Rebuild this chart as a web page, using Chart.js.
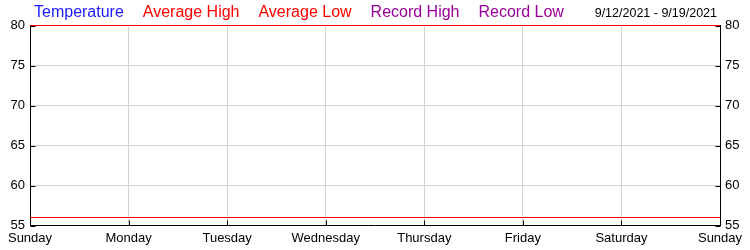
<!DOCTYPE html>
<html><head><meta charset="utf-8">
<script src="https://cdn.jsdelivr.net/npm/chart.js@4"></script>
<style>html,body{margin:0;padding:0;background:#fff}</style>
</head><body><canvas id="c" width="750" height="250"></canvas>
<script>
const days = ['Sunday','Monday','Tuesday','Wednesday','Thursday','Friday','Saturday','Sunday'];
const temperature = [];
const averageHigh = [80,80,80,80,80,80,80,80];
const averageLow = [56,56,56,56,56,56,56,56];
const recordHigh = [];
const recordLow = [];
const yMin = 55, yMax = 80, yStep = 5;
const dateRange = '9/12/2021 - 9/19/2021';

const FONT = '"Liberation Sans", Arial, sans-serif';

const overlay = {
  id: 'overlay',
  beforeDatasetsDraw(chart) {
    const {ctx, chartArea: a, scales} = chart;
    ctx.save();
    ctx.strokeStyle = '#000';
    ctx.lineWidth = 1;
    ctx.beginPath();
    const L = Math.round(a.left) + 0.5, R = Math.round(a.right) + 0.5, B = Math.round(a.bottom) - 0.5;
    scales.y.ticks.forEach((t, i) => {
      const y = Math.round(scales.y.getPixelForTick(i)) + 0.5;
      ctx.moveTo(L, y); ctx.lineTo(L + 5, y);
      ctx.moveTo(R - 5, y); ctx.lineTo(R, y);
    });
    scales.x.ticks.forEach((t, i) => {
      const x = Math.round(scales.x.getPixelForTick(i)) + 0.5;
      ctx.moveTo(x, B); ctx.lineTo(x, B - 5);
    });
    ctx.stroke();
    ctx.restore();
  },
  afterDraw(chart) {
    const {ctx, chartArea: a} = chart;
    ctx.save();
    ctx.font = '16px ' + FONT;
    ctx.textBaseline = 'alphabetic';
    ctx.textAlign = 'left';
    let x = a.left + 4;
    chart.data.datasets.forEach(ds => {
      ctx.fillStyle = ds.legendColor;
      ctx.fillText(ds.label, x, 17);
      x += ctx.measureText(ds.label).width + 19;
    });
    ctx.font = '12.5px ' + FONT;
    ctx.fillStyle = '#000';
    ctx.textAlign = 'right';
    ctx.fillText(dateRange, a.right - 3, 17);
    ctx.restore();
  }
};

const yAxis = (pos, onArea) => ({
  position: pos,
  min: yMin, max: yMax,
  ticks: {stepSize: yStep, color: '#000', font: {size: 13, family: FONT}, padding: 5},
  grid: {color: '#d3d3d3', drawTicks: false, drawOnChartArea: onArea},
  border: {color: '#000', width: 1},
  afterFit: s => { s.width = 30; }
});

new Chart(document.getElementById('c'), {
  type: 'line',
  data: {
    labels: days,
    datasets: [
      {label: 'Temperature', data: temperature, borderColor: '#0000ff', legendColor: '#1a1aff'},
      {label: 'Average High', data: averageHigh, borderColor: '#ff0000', legendColor: '#ff0000'},
      {label: 'Average Low', data: averageLow, borderColor: '#ff0000', legendColor: '#ff0000'},
      {label: 'Record High', data: recordHigh, borderColor: '#990099', legendColor: '#990099'},
      {label: 'Record Low', data: recordLow, borderColor: '#990099', legendColor: '#990099'}
    ].map(d => Object.assign(d, {borderWidth: 1, pointRadius: 0, fill: false, clip: false, tension: 0}))
  },
  options: {
    responsive: false,
    animation: false,
    layout: {padding: {top: 25.5, left: 0, right: 0, bottom: 0}},
    plugins: {legend: {display: false}, tooltip: {enabled: false}},
    scales: {
      x: {
        type: 'category', offset: false,
        ticks: {color: '#000', font: {size: 13, family: FONT}, padding: 5, maxRotation: 0, autoSkip: false},
        grid: {color: '#d3d3d3', drawTicks: false},
        border: {color: '#000', width: 1},
        afterFit: s => { s.height = 24.5; }
      },
      y: yAxis('left', true),
      y2: yAxis('right', false)
    }
  },
  plugins: [overlay]
});
</script>
</body></html>
